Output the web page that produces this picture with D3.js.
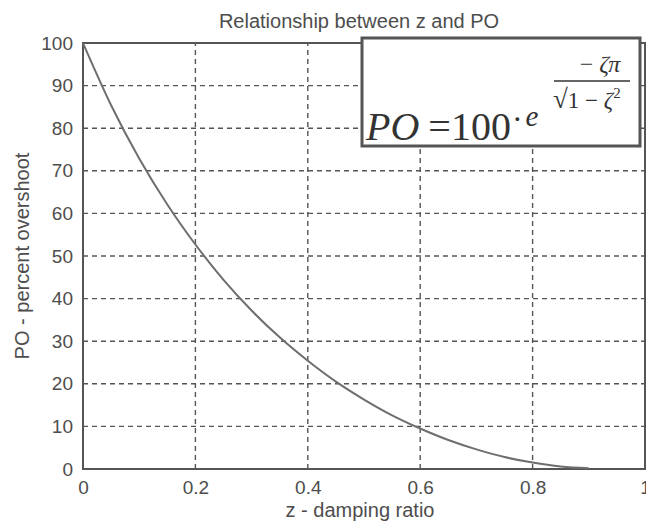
<!DOCTYPE html>
<html>
<head>
<meta charset="utf-8">
<script src="https://cdn.jsdelivr.net/npm/d3@7"></script>
<style>
  body { margin: 0; background: #fff; }
  svg { font-family: "Liberation Sans", Arial, sans-serif; }
</style>
</head>
<body>
<div id="chart"></div>
<script>
// damping ratio (z) and percent overshoot
const zeta = [0, 0.05, 0.1, 0.15, 0.2, 0.25, 0.3, 0.35, 0.4, 0.45, 0.5, 0.55, 0.6, 0.65, 0.7, 0.75, 0.8, 0.85, 0.9];
const po   = [100, 85.4, 72.9, 62.1, 52.7, 44.4, 37.2, 30.9, 25.4, 20.5, 16.3, 12.6, 9.5, 6.8, 4.6, 2.8, 1.5, 0.6, 0.2];

const xTicks = [0, 0.2, 0.4, 0.6, 0.8, 1];
const yTicks = [0, 10, 20, 30, 40, 50, 60, 70, 80, 90, 100];

const width = 646, height = 527;
const margin = {top: 43, right: 1, bottom: 58, left: 83};
const textColor = "#4d4d4d";

const svg = d3.select("#chart").append("svg")
    .attr("width", width)
    .attr("height", height);

const x = d3.scaleLinear().domain([0, 1]).range([margin.left, width - margin.right]);
const y = d3.scaleLinear().domain([0, 100]).range([height - margin.bottom, margin.top]);

// grid (dashed, matlab style)
svg.append("g")
    .selectAll("line")
    .data(xTicks.slice(1, -1))
    .join("line")
    .attr("x1", d => x(d)).attr("x2", d => x(d))
    .attr("y1", y(0)).attr("y2", y(100))
    .attr("stroke", "#555").attr("stroke-width", 1.4)
    .attr("stroke-dasharray", "5,4");

svg.append("g")
    .selectAll("line")
    .data(yTicks.slice(1, -1))
    .join("line")
    .attr("x1", x(0)).attr("x2", x(1))
    .attr("y1", d => y(d)).attr("y2", d => y(d))
    .attr("stroke", "#555").attr("stroke-width", 1.4)
    .attr("stroke-dasharray", "5,4");

// axes
const xAxis = svg.append("g")
    .attr("transform", `translate(0,${y(0)})`)
    .call(d3.axisBottom(x).tickValues(xTicks).tickSize(0).tickPadding(12).tickFormat(d3.format("~g")));
const yAxis = svg.append("g")
    .attr("transform", `translate(${x(0)},0)`)
    .call(d3.axisLeft(y).tickValues(yTicks).tickSize(0).tickPadding(10));

[xAxis, yAxis].forEach(g => {
    g.select(".domain").remove();
    g.selectAll("text").attr("font-size", 19).attr("fill", textColor)
        .attr("font-family", "Liberation Sans, Arial, sans-serif");
});

// box around plot
svg.append("rect")
    .attr("x", x(0)).attr("y", y(100))
    .attr("width", x(1) - x(0)).attr("height", y(0) - y(100))
    .attr("fill", "none").attr("stroke", "#555").attr("stroke-width", 2);

// curve
const line = d3.line()
    .x((d, i) => x(zeta[i]))
    .y(d => y(d))
    .curve(d3.curveMonotoneX);

svg.append("path")
    .datum(po)
    .attr("d", line)
    .attr("fill", "none")
    .attr("stroke", "#6e6e6e")
    .attr("stroke-width", 2);

// title and labels
svg.append("text")
    .attr("x", 359).attr("y", 28)
    .attr("text-anchor", "middle")
    .attr("font-size", 20).attr("fill", textColor)
    .text("Relationship between z and PO");

svg.append("text")
    .attr("x", 360).attr("y", 517)
    .attr("text-anchor", "middle")
    .attr("font-size", 20).attr("fill", textColor)
    .text("z - damping ratio");

svg.append("text")
    .attr("transform", "translate(29,256) rotate(-90)")
    .attr("text-anchor", "middle")
    .attr("font-size", 20).attr("fill", textColor)
    .text("PO - percent overshoot");

// formula box
const fb = svg.append("g");
fb.append("rect")
    .attr("x", 362).attr("y", 38)
    .attr("width", 278).attr("height", 108)
    .attr("fill", "#fff")
    .attr("stroke", "#555").attr("stroke-width", 3);

const serif = "Liberation Serif, Times New Roman, serif";
fb.append("text")
    .attr("x", 366).attr("y", 140)
    .attr("font-family", serif).attr("font-size", 40).attr("fill", "#333")
    .call(t => {
        t.append("tspan").attr("font-style", "italic").text("PO");
        t.append("tspan").attr("dx", 9).text("=100");
        t.append("tspan").attr("dy", -10).attr("font-size", 32).attr("dx", 1).text("·");
        t.append("tspan").attr("font-style", "italic").attr("font-size", 29).attr("dx", 3).attr("dy", -4).text("e");
    });

fb.append("text")
    .attr("x", 600).attr("y", 72)
    .attr("text-anchor", "middle")
    .attr("font-family", serif).attr("font-size", 24).attr("fill", "#333")
    .call(t => {
        t.append("tspan").text("− ");
        t.append("tspan").attr("font-style", "italic").text("ζπ");
    });

fb.append("line")
    .attr("x1", 554).attr("x2", 630)
    .attr("y1", 81).attr("y2", 81)
    .attr("stroke", "#333").attr("stroke-width", 1.6);

fb.append("text")
    .attr("x", 553).attr("y", 108)
    .attr("font-family", serif).attr("font-size", 23).attr("fill", "#333")
    .call(t => {
        t.append("tspan").attr("font-size", 27).text("√");
        t.append("tspan").text("1 − ");
        t.append("tspan").attr("font-style", "italic").text("ζ");
        t.append("tspan").attr("dy", -10).attr("font-size", 15).text("2");
    });
</script>
</body>
</html>
